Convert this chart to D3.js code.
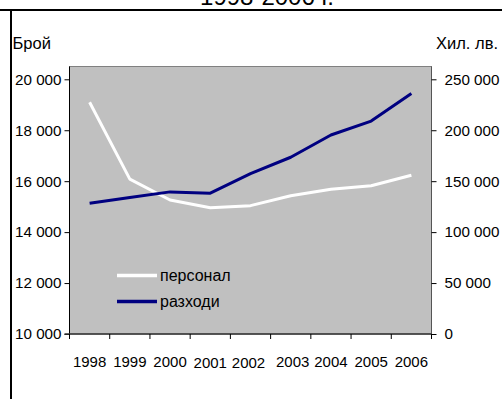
<!DOCTYPE html>
<html>
<head>
<meta charset="utf-8">
<script src="https://cdn.jsdelivr.net/npm/d3@7"></script>
<style>
  html, body { margin: 0; padding: 0; background: #fff; }
  svg { display: block; font-family: "Liberation Sans", Arial, sans-serif; }
</style>
</head>
<body>
<svg id="chart" width="502" height="399"></svg>
<script>
// Years on the category axis
const years = ["1998", "1999", "2000", "2001", "2002", "2003", "2004", "2005", "2006"];
// Staff headcount (left axis, number of people)
const personnel = [19100, 16080, 15260, 14960, 15040, 15430, 15680, 15820, 16230];
// Expenditure (right axis, thousand leva)
const expenses = [128300, 134000, 139500, 138200, 157500, 173500, 195300, 209000, 236000];
// Tick values for both value axes
const leftTicks = [10000, 12000, 14000, 16000, 18000, 20000];
const rightTicks = [0, 50000, 100000, 150000, 200000, 250000];
const seriesNames = ["персонал", "разходи"];

const svg = d3.select("#chart");
const fmt = v => d3.format(",")(v).replace(/,/g, "\u00a0");

const plot = { left: 69.5, right: 431.5, top: 66.5, bottom: 334 };

const x = d3.scaleBand().domain(years).range([plot.left, plot.right]);
const yL = d3.scaleLinear().domain([10000, 20000]).range([plot.bottom, 79.3]);
const yR = d3.scaleLinear().domain([0, 250000]).range([plot.bottom, 79.3]);

// Frame lines at the top and left of the page
svg.append("line").attr("x1", 0).attr("x2", 502).attr("y1", 10).attr("y2", 10)
  .attr("stroke", "#000").attr("stroke-width", 2);
svg.append("line").attr("x1", 11).attr("x2", 11).attr("y1", 10).attr("y2", 399)
  .attr("stroke", "#000").attr("stroke-width", 2);

// Title (runs off the top edge of the page)
svg.append("text").attr("x", 267).attr("y", 4.5).attr("text-anchor", "middle")
  .attr("font-size", 24).attr("fill", "#000").text("1998-2006 г.");

// Plot background
svg.append("rect")
  .attr("x", plot.left).attr("y", plot.top)
  .attr("width", plot.right - plot.left).attr("height", plot.bottom - plot.top)
  .attr("fill", "#c0c0c0").attr("stroke", "#808080").attr("stroke-width", 1);

// Left axis
const gL = svg.append("g").attr("transform", `translate(${plot.left},0)`)
  .call(d3.axisLeft(yL).tickValues(leftTicks).tickSize(5).tickPadding(3).tickFormat(fmt));
gL.select(".domain").attr("stroke", "#000").attr("d", `M0,${plot.top}V${plot.bottom}`);

// Right axis
const gR = svg.append("g").attr("transform", `translate(${plot.right},0)`)
  .call(d3.axisRight(yR).tickValues(rightTicks).tickSize(5).tickPadding(8).tickFormat(fmt));
gR.select(".domain").attr("stroke", "#555").attr("d", `M0,${plot.top}V${plot.bottom}`);

// Bottom axis: ticks at band boundaries, labels at band centres
const gB = svg.append("g").attr("transform", `translate(0,${plot.bottom})`);
gB.append("line").attr("x1", plot.left - 5).attr("x2", plot.right).attr("y1", 0).attr("y2", 0)
  .attr("stroke", "#333").attr("stroke-width", 1.5);
const bounds = years.map(d => x(d)).concat([plot.right]);
gB.selectAll("line.tk").data(bounds).join("line").attr("class", "tk")
  .attr("x1", d => d).attr("x2", d => d).attr("y1", 0).attr("y2", 5)
  .attr("stroke", "#000");
gB.selectAll("text").data(years).join("text")
  .attr("x", d => x(d) + x.bandwidth() / 2 + (d === "2002" ? -2 : d === "2003" ? 2 : 0))
  .attr("y", d => (d === "2001" || d === "2002") ? 33.5 : 32.5)
  .attr("text-anchor", "middle").attr("font-size", 15).attr("fill", "#000")
  .text(d => d);

svg.selectAll(".tick text").attr("font-size", 15.2).attr("fill", "#000")
  .attr("font-family", "Liberation Sans, Arial, sans-serif");
svg.selectAll(".tick line").attr("stroke", "#000");

// Axis titles
svg.append("text").attr("x", 12.5).attr("y", 48.5).attr("font-size", 16.5).text("Брой");
svg.append("text").attr("x", 498).attr("y", 48.5).attr("text-anchor", "end")
  .attr("font-size", 16.5).text("Хил. лв.");

// Series lines
const cx = d => x(d) + x.bandwidth() / 2;
const linePers = d3.line().x((d, i) => cx(years[i])).y(d => yL(d));
const lineExp = d3.line().x((d, i) => cx(years[i])).y(d => yR(d));

svg.append("path").datum(personnel).attr("d", linePers)
  .attr("fill", "none").attr("stroke", "#fff").attr("stroke-width", 3)
  .attr("stroke-linejoin", "round");
svg.append("path").datum(expenses).attr("d", lineExp)
  .attr("fill", "none").attr("stroke", "#000080").attr("stroke-width", 3)
  .attr("stroke-linejoin", "round");

// Legend
const legendColors = ["#fff", "#000080"];
const lg = svg.append("g");
seriesNames.forEach((name, i) => {
  const ly = 275.5 + i * 26;
  lg.append("line").attr("x1", 117).attr("x2", 157).attr("y1", ly).attr("y2", ly)
    .attr("stroke", legendColors[i]).attr("stroke-width", 3.5);
  lg.append("text").attr("x", 160).attr("y", ly + 5).attr("font-size", 16)
    .attr("fill", "#000").text(name);
});
</script>
</body>
</html>
